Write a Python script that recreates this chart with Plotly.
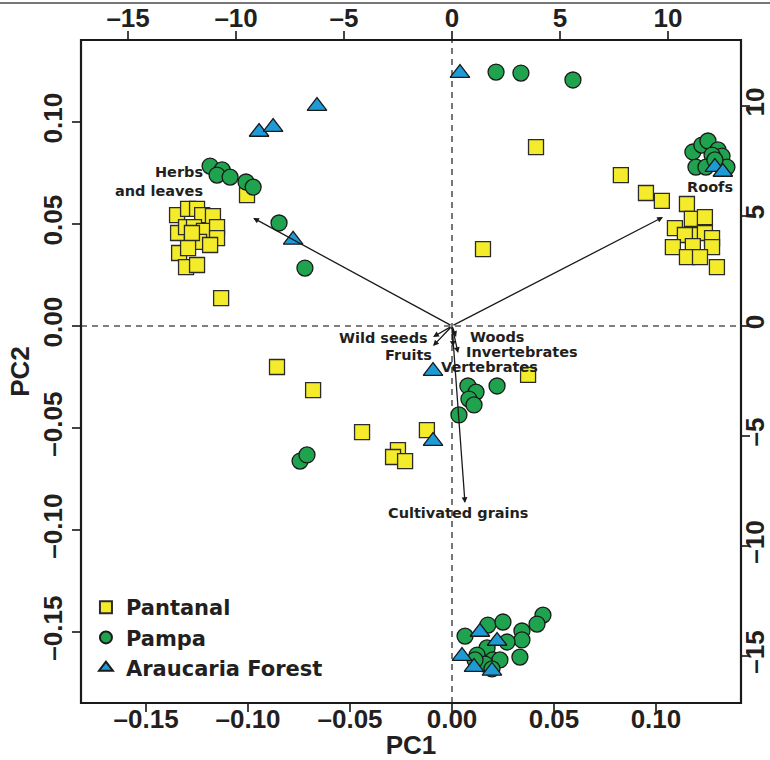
import plotly.graph_objects as go

# ---------------- data ----------------
pantanal_pc1 = [-0.1348, -0.1294, -0.1250, -0.1225, -0.1172, -0.1343, -0.1304, -0.1265, -0.1216,
                -0.1152, -0.1152, -0.1275, -0.1240, -0.1186, -0.1338, -0.1304, -0.1250, -0.1275,
                -0.1294, -0.1132, -0.1005,
                0.1029, 0.0951, 0.0828, 0.1152, 0.1176, 0.1240, 0.1093, 0.1181, 0.1142, 0.1240,
                0.1275, 0.1083, 0.1181, 0.1275, 0.1152, 0.1216, 0.1299,
                0.0412, 0.0152, 0.0373, -0.0858, -0.0681, -0.0441, -0.0123, -0.0265, -0.0289, -0.0230]
pantanal_pc2 = [0.0544, 0.0574, 0.0574, 0.0544, 0.0539, 0.0456, 0.0485, 0.0485, 0.0466,
                0.0485, 0.0431, 0.0412, 0.0412, 0.0397, 0.0358, 0.0289, 0.0299, 0.0456,
                0.0382, 0.0137, 0.0642,
                0.0613, 0.0652, 0.0740, 0.0598, 0.0525, 0.0534, 0.0480, 0.0446, 0.0446, 0.0456,
                0.0431, 0.0387, 0.0392, 0.0387, 0.0338, 0.0338, 0.0289,
                0.0877, 0.0377, -0.0240, -0.0201, -0.0314, -0.0520, -0.0510, -0.0608, -0.0642, -0.0662]

pampa_pc1 = [0.0216, 0.0338, 0.0593,
             -0.1186, -0.1127, -0.1152, -0.1088, -0.1010, -0.0975, -0.0848, -0.0721, -0.0745, -0.0711,
             0.1181, 0.1225, 0.1255, 0.1304, 0.1324, 0.1275, 0.1196, 0.1245, 0.1348, 0.1289,
             0.0078, 0.0118, 0.0083, 0.0108, 0.0221, 0.0034,
             0.0064, 0.0176, 0.0250, 0.0343, 0.0446, 0.0417, 0.0343, 0.0270, 0.0172, 0.0123,
             0.0201, 0.0235, 0.0162, 0.0333, 0.0196, 0.0113]
pampa_pc2 = [0.1245, 0.1240, 0.1206,
             0.0784, 0.0765, 0.0740, 0.0730, 0.0706, 0.0681, 0.0505, 0.0284, -0.0662, -0.0632,
             0.0853, 0.0887, 0.0907, 0.0863, 0.0833, 0.0838, 0.0779, 0.0779, 0.0779, 0.0814,
             -0.0294, -0.0324, -0.0358, -0.0387, -0.0294, -0.0436,
             -0.1520, -0.1466, -0.1451, -0.1495, -0.1417, -0.1461, -0.1539, -0.1549, -0.1578, -0.1613,
             -0.1637, -0.1637, -0.1657, -0.1623, -0.1681, -0.1637]

araucaria_pc1 = [0.0039, -0.0662, -0.0946, -0.0877, -0.0779, -0.0093, -0.0093,
                 0.1289, 0.1328, 0.0137, 0.0221, 0.0049, 0.0108, 0.0196]
araucaria_pc2 = [0.1240, 0.1078, 0.0951, 0.0975, 0.0422, -0.0221, -0.0564,
                 0.0779, 0.0755, -0.1500, -0.1544, -0.1618, -0.1672, -0.1691]

# loadings (top / right axis units)
loading_names = ["Herbs<br>and leaves", "Roofs", "Wild seeds", "Fruits", "Woods",
                 "Invertebrates", "Vertebrates", "Cultivated grains"]
loading_pc1 = [-9.21, 9.77, -0.88, -0.88, 0.19, 0.28, 0.05, 0.60]
loading_pc2 = [4.91, 4.95, -0.50, -0.91, -0.50, -1.23, -0.95, -8.05]

pc_ticks = [-0.15, -0.10, -0.05, 0.00, 0.05, 0.10]
load_ticks = [-15, -10, -5, 0, 5, 10]

# ---------------- styling ----------------
TICK_FONT = dict(family="Liberation Sans, Arial, sans-serif",
                 size=26, color="#231f20", weight="bold")
LABEL_FONT = dict(family="DejaVu Sans, sans-serif", size=14.5, color="#231f20", weight="bold")

# label placement relative to arrow tip: (xanchor, xshift, yshift)
label_place = [("right", -48, 36), ("center", 47, 30), ("right", -3, -1), ("right", 1, -9),
               ("left", 12, 0), ("left", 6, 1), ("left", -14, -20), ("center", -6, -10)]


def fmt(v, nd):
    s = f"{abs(v):.{nd}f}"
    return ("\u2013" + s) if v < 0 else s


fig = go.Figure()

fig.add_trace(go.Scatter(x=pantanal_pc1, y=pantanal_pc2, mode="markers", name="Pantanal",
                         marker=dict(symbol="square", size=15, color="#f4ec2a",
                                     line=dict(color="#2b2b2b", width=1.3))))
fig.add_trace(go.Scatter(x=pampa_pc1, y=pampa_pc2, mode="markers", name="Pampa",
                         marker=dict(symbol="circle", size=16, color="#1fa34f",
                                     line=dict(color="#1a1a1a", width=1.3))))
fig.add_trace(go.Scatter(x=araucaria_pc1, y=araucaria_pc2, mode="markers", name="Araucaria Forest",
                         marker=dict(symbol="triangle-up", size=17, color="#1e9bd7",
                                     line=dict(color="#1a1a1a", width=1.3))))
# invisible trace on the loading axes
fig.add_trace(go.Scatter(x=loading_pc1, y=loading_pc2, xaxis="x2", yaxis="y2", mode="markers",
                         marker=dict(opacity=0), showlegend=False, hoverinfo="skip"))

annotations = []
for name, lx, ly, (xa, xs, ys) in zip(loading_names, loading_pc1, loading_pc2, label_place):
    annotations.append(dict(x=lx, y=ly, xref="x2", yref="y2", ax=0, ay=0, axref="x2", ayref="y2",
                            text="", showarrow=True, arrowhead=2, arrowsize=0.9, arrowwidth=1.3,
                            arrowcolor="#1a1a1a", standoff=0, startstandoff=0))
    annotations.append(dict(x=lx, y=ly, xref="x2", yref="y2", text=name, showarrow=False,
                            xanchor=xa, yanchor="middle", xshift=xs, yshift=ys, align="right",
                            font=LABEL_FONT))

shapes = [
    dict(type="line", xref="x", yref="paper", x0=0, x1=0, y0=0, y1=1,
         line=dict(color="#555555", width=1.6, dash="6px,5px"), layer="below"),
    dict(type="line", xref="paper", yref="y", x0=0, x1=1, y0=0, y1=0,
         line=dict(color="#555555", width=1.6, dash="6px,5px"), layer="below"),
    dict(type="rect", xref="paper", yref="paper", x0=0, x1=1, y0=0, y1=1,
         line=dict(color="#1a1a1a", width=2.2)),
    dict(type="line", xref="paper", yref="paper", x0=-0.13, x1=1.05, y0=1.0558, y1=1.0558,
         line=dict(color="#777777", width=2)),
]

axis_common = dict(showgrid=False, zeroline=False, showline=False, ticks="outside", ticklen=8,
                   tickwidth=1.5, tickcolor="#444444", tickfont=TICK_FONT, automargin=False)

fig.update_layout(
    width=770, height=760,
    margin=dict(l=81, r=29, t=40, b=57),
    paper_bgcolor="white", plot_bgcolor="white",
    xaxis=dict(range=[-0.1819, 0.1417], tickvals=pc_ticks, ticktext=[fmt(v, 2) for v in pc_ticks],
               ticklabelstandoff=-15,
               title=dict(text="PC1", font=dict(TICK_FONT, size=26), standoff=0), **axis_common),
    yaxis=dict(range=[-0.1848, 0.1402], tickvals=pc_ticks, ticktext=[fmt(v, 2) for v in pc_ticks],
               tickangle=-90,
               title=dict(text="PC2", font=dict(TICK_FONT, size=26), standoff=0), **axis_common),
    xaxis2=dict(range=[-17.18, 13.38], tickvals=load_ticks, ticktext=[fmt(v, 0) for v in load_ticks],
                ticklabelstandoff=-6,
                overlaying="x", side="top", anchor="y2", **axis_common),
    yaxis2=dict(range=[-17.14, 13.0], tickvals=load_ticks, ticktext=[fmt(v, 0) for v in load_ticks],
                ticklabelstandoff=-17,
                tickangle=-90, overlaying="y", side="right", anchor="x2", **axis_common),
    legend=dict(x=0.0075, y=0.175, xanchor="left", yanchor="top", bgcolor="rgba(0,0,0,0)",
                font=dict(family="DejaVu Sans, sans-serif", size=21, color="#231f20", weight="bold"),
                tracegroupgap=0, itemsizing="constant"),
    annotations=annotations,
    shapes=shapes,
    showlegend=True,
)

fig.write_html("out.html")
